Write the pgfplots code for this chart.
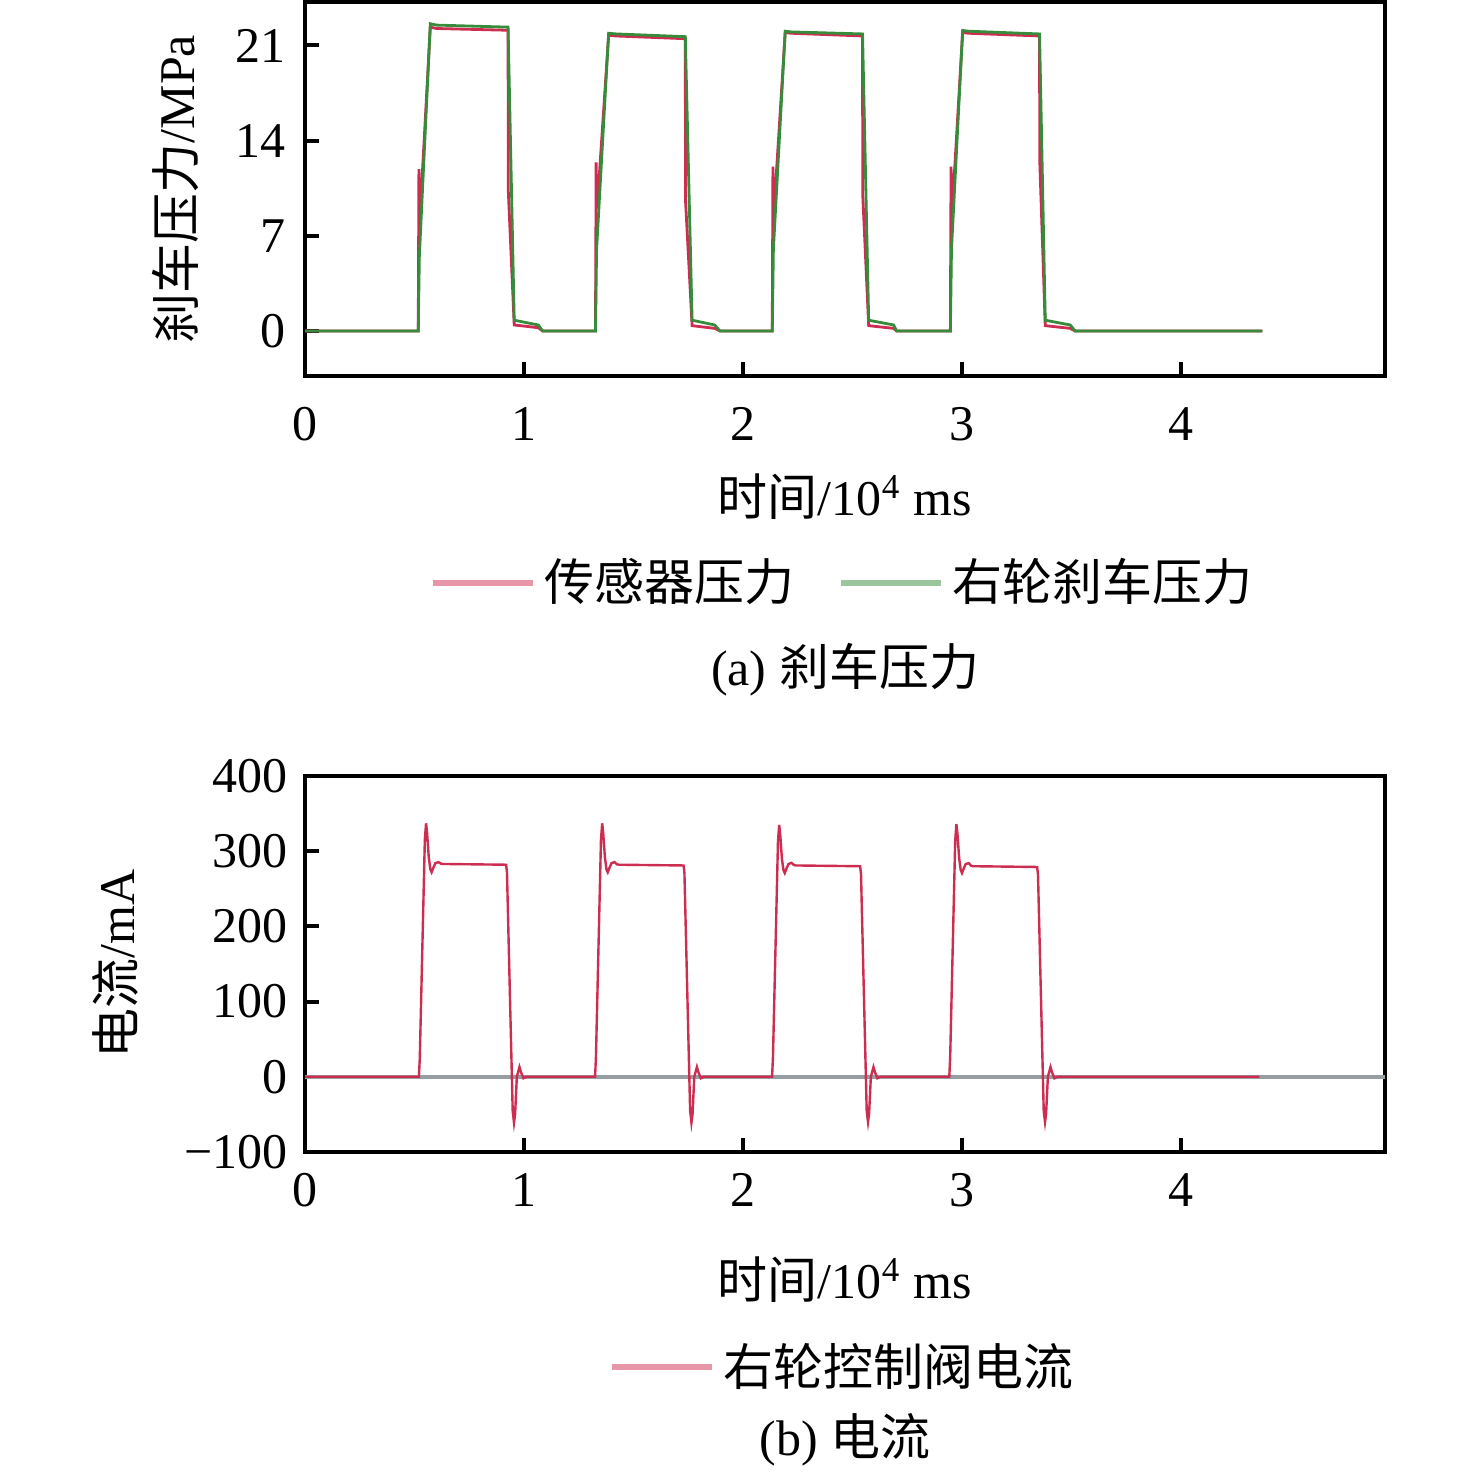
\documentclass[border=0pt]{standalone}
\usepackage{fontspec}
\setmainfont{Liberation Serif}
\newfontfamily\cjk{Noto Sans CJK SC}
\usepackage{pgfplots}
\pgfplotsset{compat=1.18}
\definecolor{cred}{RGB}{205,45,80}
\definecolor{cgreen}{RGB}{55,140,60}
\definecolor{zgray}{RGB}{150,158,162}
\begin{document}
\begin{tikzpicture}[font=\fontsize{12.5}{15}\selectfont]
\useasboundingbox (0,0) rectangle (369pt,368.5pt);
\pgfplotsset{
  myaxis/.style={
    scale only axis, width=270pt,
    xmin=0, xmax=4.93,
    axis line style={line width=1pt},
    tick style={line width=1pt, black},
    major tick length=3.5pt,
    tick align=inside,
    xtick pos=bottom, ytick pos=left,
    xtick={0,1,2,3,4},
    /pgf/number format/assume math mode=true,
    legend cell align=left,
    legend style={draw=none, fill=none, font=\cjk\fontsize{12.5}{15}\selectfont,
      /tikz/every even column/.append style={column sep=9pt}},
    legend image code/.code={\draw[line width=1.6pt, opacity=0.5] (0pt,0pt) -- (25pt,0pt);},
  }
}
% ---------- (a) ----------
\begin{axis}[myaxis,
  height=93.5pt,
  at={(76.25pt,274.5pt)}, anchor=south west,
  ymin=-3.3, ymax=24.2,
  ytick={0,7,14,21},
  xticklabel style={yshift=-4.25pt},
  yticklabel style={xshift=-1.25pt},
  xlabel={{\cjk 时间}/10\textsuperscript{4} ms},
  xlabel style={at={(axis description cs:0.5,-0.3235)}, anchor=center},
  ylabel={{\cjk 刹车压力}/MPa},
  ylabel style={at={(axis description cs:-0.120,0.5)}, anchor=center, rotate=0},
  legend columns=2,
  legend style={at={(0.5,-0.553)}, anchor=center},
]
\addplot[cred, line width=0.7pt] coordinates {
(0,0) (0.517,0) (0.520,11.9) (0.523,8.6) (0.527,10.6) (0.531,10.2) (0.572,22.35) (0.6,22.25) (0.927,22.12) (0.928,10.3) (0.955,0.45) (1.065,0.25) (1.085,0)
(1.326,0) (1.329,12.4) (1.332,9.0) (1.336,11.0) (1.340,10.6) (1.386,21.75) (1.42,21.7) (1.736,21.5) (1.737,9.6) (1.767,0.4) (1.870,0.2) (1.895,0)
(2.133,0) (2.136,12.1) (2.139,8.8) (2.143,10.8) (2.147,10.4) (2.192,21.95) (2.22,21.9) (2.545,21.7) (2.546,10) (2.573,0.4) (2.687,0.2) (2.701,0)
(2.946,0) (2.949,12.1) (2.952,8.8) (2.956,10.8) (2.960,10.4) (3.002,21.95) (3.03,21.9) (3.353,21.7) (3.354,12.5) (3.379,0.4) (3.493,0.2) (3.516,0) (4.37,0)
};
\addlegendentry{传感器压力}
\addplot[cgreen, line width=0.7pt] coordinates {
(0,0) (0.517,0) (0.522,5.5) (0.572,22.6) (0.6,22.5) (0.927,22.35) (0.955,0.8) (1.065,0.45) (1.085,0)
(1.326,0) (1.331,6) (1.386,21.9) (1.42,21.85) (1.736,21.65) (1.767,0.8) (1.870,0.45) (1.895,0)
(2.133,0) (2.138,6) (2.192,22.05) (2.22,22.0) (2.545,21.85) (2.573,0.8) (2.687,0.45) (2.701,0)
(2.946,0) (2.951,6) (3.002,22.1) (3.03,22.05) (3.353,21.85) (3.379,0.8) (3.493,0.45) (3.516,0) (4.37,0)
};
\addlegendentry{右轮刹车压力}
\end{axis}
% ---------- (b) ----------
\begin{axis}[myaxis,
  height=94pt,
  at={(76.25pt,80.5pt)}, anchor=south west,
  ymin=-100, ymax=400,
  ytick={-100,0,100,200,300,400},
  yticklabels={−100,0,100,200,300,400},
  xticklabel style={yshift=-1.75pt},
  yticklabel style={xshift=-0.75pt},
  xlabel={{\cjk 时间}/10\textsuperscript{4} ms},
  xlabel style={at={(axis description cs:0.5,-0.340)}, anchor=center},
  ylabel={{\cjk 电流}/mA},
  ylabel style={at={(axis description cs:-0.176,0.5)}, anchor=center, rotate=0},
  legend style={at={(0.5,-0.572)}, anchor=center},
]
\addplot[zgray, line width=1pt, forget plot] coordinates {(0,0) (4.93,0)};
\addplot[cred, line width=0.6pt] coordinates {
(0,0) (0.520,0) (0.524,25) (0.547,315) (0.5525,337) (0.557,325) (0.565,292) (0.572,276) (0.578,272) (0.586,278) (0.595,284) (0.609,285.5) (0.62,283.5) (0.63,283) (0.918,282) (0.922,272) (0.948,-45) (0.954,-61) (0.959,-50) (0.967,0) (0.979,13) (0.986,6) (0.997,-2) (1.010,0)
(1.324,0) (1.328,25) (1.351,315) (1.3565,337) (1.361,325) (1.369,292) (1.376,276) (1.382,272) (1.390,278) (1.399,284) (1.413,285.5) (1.424,282.5) (1.434,282) (1.728,281) (1.732,271) (1.758,-45) (1.764,-61) (1.769,-50) (1.777,0) (1.789,13) (1.796,6) (1.807,-2) (1.820,0)
(2.132,0) (2.136,25) (2.159,313) (2.1645,335) (2.169,323) (2.177,290) (2.184,275) (2.190,271) (2.198,277) (2.207,283) (2.221,284.5) (2.232,281.5) (2.242,281) (2.534,280) (2.538,270) (2.564,-45) (2.570,-60) (2.575,-49) (2.583,0) (2.595,13) (2.602,6) (2.613,-2) (2.626,0)
(2.941,0) (2.945,25) (2.968,314) (2.9735,336) (2.978,324) (2.986,291) (2.993,275) (2.999,271) (3.007,277) (3.016,283) (3.030,284) (3.041,280.5) (3.051,280) (3.342,279) (3.346,269) (3.372,-45) (3.378,-60) (3.383,-49) (3.391,0) (3.403,13) (3.410,6) (3.421,-2) (3.434,0) (4.356,0)
};
\addlegendentry{右轮控制阀电流}
\end{axis}
\node at (211.25pt,201pt) {(a) {\cjk 刹车压力}};
\node at (211.25pt,8.5pt) {(b) {\cjk 电流}};
\end{tikzpicture}
\end{document}
